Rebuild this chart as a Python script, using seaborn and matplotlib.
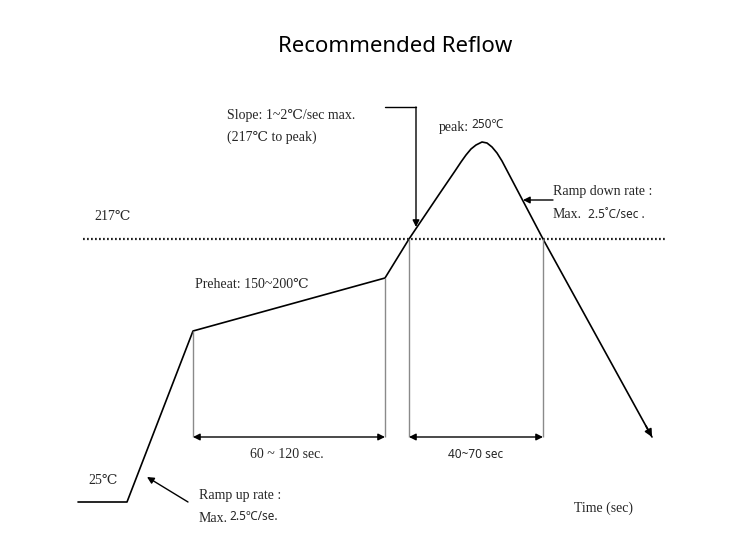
import matplotlib
matplotlib.use("Agg")
import matplotlib.pyplot as plt
import seaborn as sns
import pandas as pd

# ---- data (schematic units: x = time position, y = temperature level) ----
profile_time = [78, 127, 193, 385, 409, 440, 455, 461, 466, 471, 476, 482, 487, 492, 497, 502, 543, 652]
profile_level = [502, 502, 331, 278, 239, 193, 171, 162, 155, 149, 145, 142, 143, 147, 153, 161, 239, 437]

liquidus_level = 239          # 217 C line
liquidus_span = [83, 667]
preheat_window = [193, 385]   # 60~120 sec
reflow_window = [409, 543]    # 40~70 sec
preheat_tops = [331, 278]
window_bottom = 437

title = "Recommended Reflow"

sns.set_theme(style="white")
plt.rcParams["axes.unicode_minus"] = False
serif = ["Liberation Serif", "DejaVu Serif", "Noto Sans CJK SC"]
sans = ["Noto Sans", "DejaVu Sans", "Noto Sans CJK SC"]

fig = plt.figure(figsize=(7.5, 5.5), dpi=100)
ax = fig.add_axes([0, 0, 1, 1])
ax.set_xlim(0, 750)
ax.set_ylim(550, 0)
ax.axis("off")

df = pd.DataFrame({"time": profile_time, "level": profile_level})
sns.lineplot(data=df, x="time", y="level", sort=False, color="black", lw=1.2, ax=ax, estimator=None)
# arrowhead at end of cooling line
ax.annotate("", xy=(profile_time[-1], profile_level[-1]),
            xytext=(profile_time[-1] - 6, profile_level[-1] - 11),
            arrowprops=dict(arrowstyle="-|>", color="black", lw=1.2, mutation_scale=11,
                            shrinkA=0, shrinkB=0))

# liquidus dotted line
ax.plot(liquidus_span, [liquidus_level] * 2, color="#222222", lw=1.6, linestyle=(0, (0.8, 1.0)))

# vertical guide lines
gray = "#8a8a8a"
ax.vlines(preheat_window, preheat_tops, window_bottom, color=gray, lw=1.0)
ax.vlines(reflow_window, [liquidus_level] * 2, window_bottom, color=gray, lw=1.0)

# double arrows
for a, b in (preheat_window, reflow_window):
    ax.annotate("", xy=(a, window_bottom), xytext=(b, window_bottom),
                arrowprops=dict(arrowstyle="<|-|>", color="black", lw=1.0, mutation_scale=10,
                                shrinkA=0, shrinkB=0))

# title
ax.text(395, 47, title, ha="center", va="center", fontsize=16, family=sans, color="black")

fs = 10
ax.text(113, 216, "217℃", ha="center", va="center", fontsize=fs, family=serif)
ax.text(103, 481, "25℃", ha="center", va="center", fontsize=fs, family=serif)
ax.text(195, 285, "Preheat: 150~200℃", ha="left", va="center", fontsize=fs, family=serif)
ax.text(227, 115, "Slope: 1~2℃/sec max.", ha="left", va="center", fontsize=fs, family=serif)
ax.text(227, 137, "(217℃ to peak)", ha="left", va="center", fontsize=fs, family=serif)
ax.text(439, 127, "peak:", ha="left", va="center", fontsize=fs, family=serif)
ax.text(471, 125, "250℃", ha="left", va="center", fontsize=8.5, family=sans)
ax.text(553, 192, "Ramp down rate :", ha="left", va="center", fontsize=fs, family=serif)
ax.text(553, 215, "Max.", ha="left", va="center", fontsize=fs, family=serif)
ax.text(588, 214, "2.5˚C/sec .", ha="left", va="center", fontsize=8.5, family=sans)
ax.text(199, 495, "Ramp up rate :", ha="left", va="center", fontsize=fs, family=serif)
ax.text(199, 518, "Max.", ha="left", va="center", fontsize=fs, family=serif)
ax.text(229, 517, "2.5℃/se.", ha="left", va="center", fontsize=8.5, family=sans)
ax.text(287, 455, "60 ~ 120 sec.", ha="center", va="center", fontsize=fs, family=serif)
ax.text(476, 455, "40~70 sec", ha="center", va="center", fontsize=8.5, family=sans)
ax.text(604, 508, "Time (sec)", ha="center", va="center", fontsize=fs, family=serif)

# annotation arrows
ax.plot([385, 416], [107, 107], color="black", lw=1.0)
ax.annotate("", xy=(416, 227), xytext=(416, 107),
            arrowprops=dict(arrowstyle="-|>", color="black", lw=1.0, mutation_scale=10, shrinkA=0, shrinkB=0))
ax.annotate("", xy=(523, 200), xytext=(553, 200),
            arrowprops=dict(arrowstyle="-|>", color="black", lw=1.0, mutation_scale=10, shrinkA=0, shrinkB=0))
ax.annotate("", xy=(147, 477), xytext=(188, 502),
            arrowprops=dict(arrowstyle="-|>", color="black", lw=1.0, mutation_scale=10, shrinkA=0, shrinkB=0))

fig.savefig("out.png", dpi=100)
